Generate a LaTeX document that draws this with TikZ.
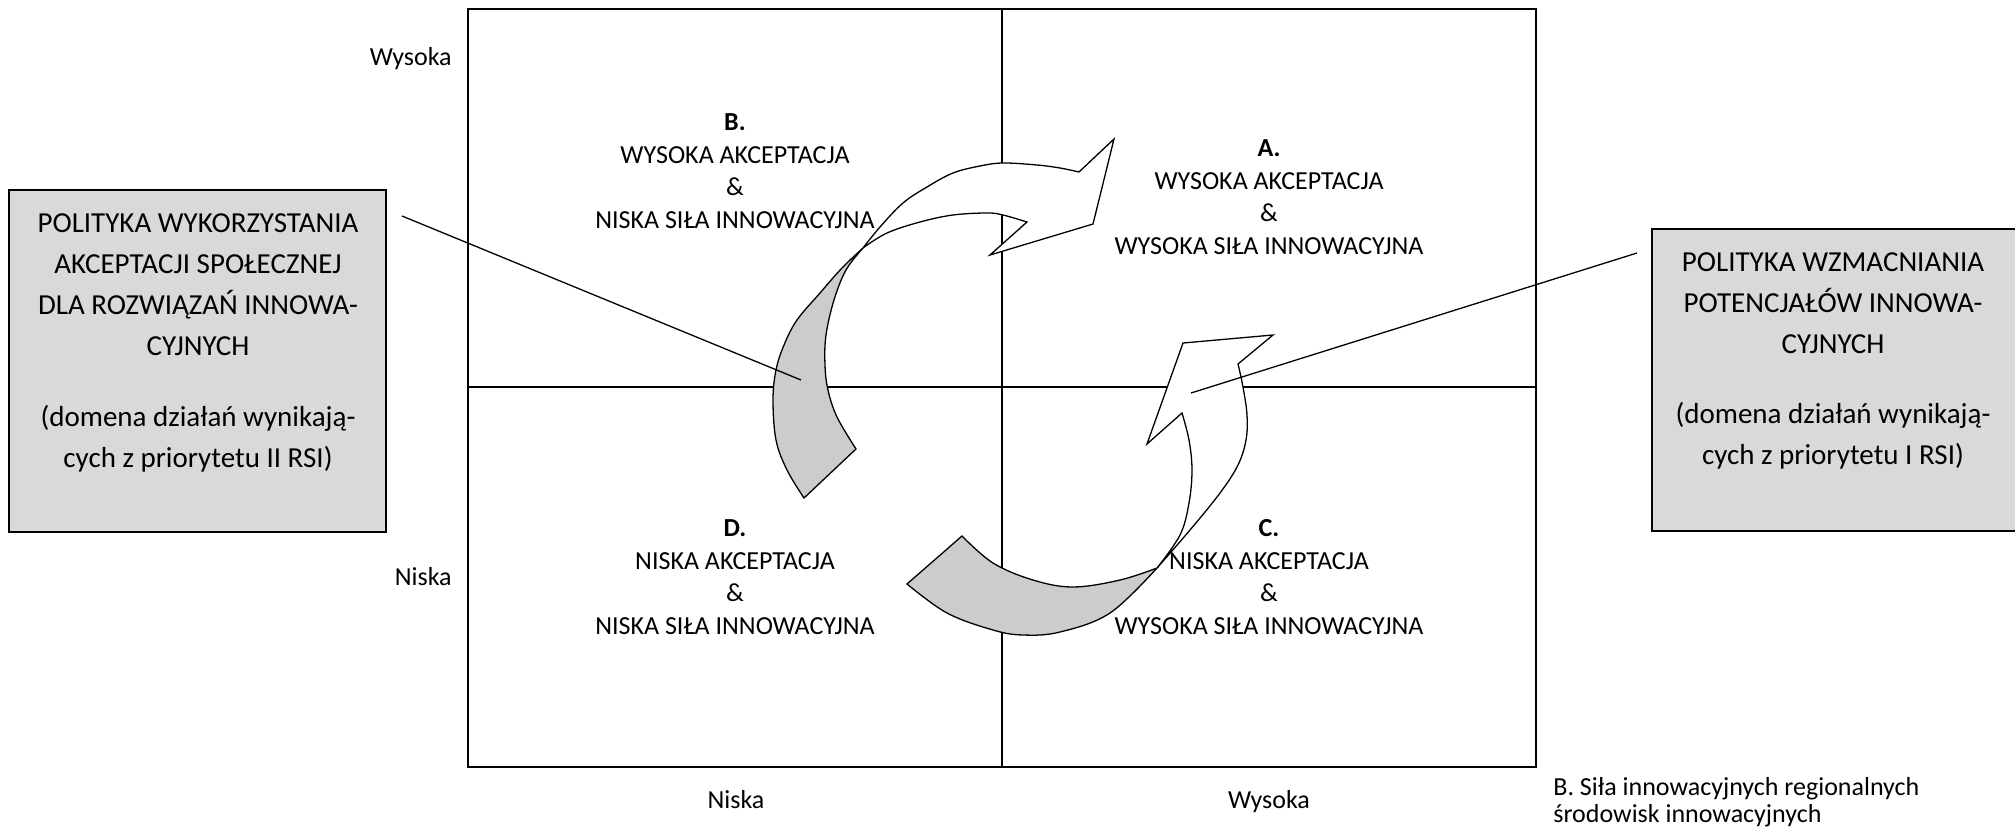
\documentclass[tikz,border=0pt]{standalone}
\usepackage{fontspec}
\setmainfont{Carlito}
\definecolor{boxfill}{RGB}{217,217,217}
\definecolor{ribbonfill}{RGB}{204,204,204}
\begin{document}
\begin{tikzpicture}[x=0.5pt,y=-0.5pt,
  gridline/.style={line width=1pt},
  policybox/.style={draw,line width=0.75pt,fill=boxfill},
  axislabel/.style={inner sep=0pt,anchor=base,font=\fontsize{13}{16}\selectfont},
  quadtext/.style={inner sep=0pt,anchor=base,align=center,font=\fontsize{13}{16.25}\selectfont},
  boxtext/.style={inner sep=0pt,anchor=base,align=center,font=\fontsize{14.5}{20.4}\selectfont},
  ribbon/.style={draw,line width=0.65pt,line join=miter},
  leader/.style={line width=0.65pt}]
\useasboundingbox (0,0) rectangle (2015,830);
\clip (0,0) rectangle (2015,830);

% quadrant grid
\draw[gridline] (468,9) rectangle (1536,767);
\draw[gridline] (1002,9) -- (1002,767);
\draw[gridline] (468,387) -- (1536,387);

% policy boxes
\draw[policybox] (9,190) rectangle (386,532);
\draw[policybox] (1652,229) rectangle (2030,531);

% multi-line nodes are placed by the baseline of their last line
\node[boxtext] (ltitle) at (198,355) {POLITYKA WYKORZYSTANIA\\AKCEPTACJI SPOŁECZNEJ\\DLA ROZWIĄZAŃ INNOWA-\\CYJNYCH};
\node[boxtext] (ldomain) at (198,467) {(domena działań wynikają-\\cych z priorytetu II RSI)};
\node[boxtext] (rtitle) at (1833,353) {POLITYKA WZMACNIANIA\\POTENCJAŁÓW INNOWA-\\CYJNYCH};
\node[boxtext] (rdomain) at (1833,464) {(domena działań wynikają-\\cych z priorytetu I RSI)};

% upper-left curved arrow: grey tail and white head
\filldraw[ribbon,fill=ribbonfill] (804,498)
  -- plot[smooth,tension=0.6] coordinates {(804,498) (787,470) (776,440) (773,400) (776,370) (784,345) (797,320) (820,293) (842,268) (863,248)}
  -- plot[smooth,tension=0.6] coordinates {(863,248) (846,270) (834,300) (826,335) (825,365) (828,390) (837,417) (856,449)}
  -- cycle;
\filldraw[ribbon,fill=white] (863,248)
  -- plot[smooth,tension=0.6] coordinates {(863,248) (880,227) (903,203) (927,187) (953,173) (980,166) (1003,163) (1037,165) (1060,168) (1079,172)}
  -- (1114,139) -- (1093,224) -- (990,255) -- (1027,222)
  -- plot[smooth,tension=0.6] coordinates {(1027,222) (1003,215) (987,213) (953,215) (920,222) (887,233) (863,248)}
  -- cycle;

% lower-right curved arrow: grey tail and white head
\filldraw[ribbon,fill=ribbonfill] (962,536) -- (907,584)
  -- plot[smooth,tension=0.6] coordinates {(907,584) (947,613) (993,630) (1023,635) (1060,632) (1110,613) (1157,568)}
  -- plot[smooth,tension=0.6] coordinates {(1157,568) (1120,580) (1073,587) (1033,580) (993,563) (962,536)}
  -- cycle;
\filldraw[ribbon,fill=white] (1157,568)
  -- plot[smooth,tension=0.6] coordinates {(1157,568) (1190,530) (1220,493) (1238,465) (1246,440) (1247,415) (1243,387) (1238,364)}
  -- (1273,335) -- (1183,343) -- (1147,444) -- (1182,413)
  -- plot[smooth,tension=0.6] coordinates {(1182,413) (1189,440) (1192,470) (1189,503) (1180,535) (1157,568)}
  -- cycle;

% leader lines from the policy boxes
\coordinate (lstart) at (402,216);
\coordinate (lend) at (801,380);
\coordinate (rstart) at (1637,253);
\coordinate (rend) at (1191,393);
\draw[leader] (lstart) -- (lend);
\draw[leader] (rstart) -- (rend);

% quadrant captions
\node[quadtext] (qB) at (735,228) {\textbf{B.}\\WYSOKA AKCEPTACJA\\\&\\NISKA SIŁA INNOWACYJNA};
\node[quadtext] (qA) at (1269,254) {\textbf{A.}\\WYSOKA AKCEPTACJA\\\&\\WYSOKA SIŁA INNOWACYJNA};
\node[quadtext] (qD) at (735,634) {\textbf{D.}\\NISKA AKCEPTACJA\\\&\\NISKA SIŁA INNOWACYJNA};
\node[quadtext] (qC) at (1269,634) {\textbf{C.}\\NISKA AKCEPTACJA\\\&\\WYSOKA SIŁA INNOWACYJNA};

% axis labels
\node[axislabel,anchor=base east] (yhigh) at (452,65) {Wysoka};
\node[axislabel,anchor=base east] (ylow) at (452,585) {Niska};
\node[axislabel] (xlow) at (736,808) {Niska};
\node[axislabel] (xhigh) at (1269,808) {Wysoka};
\node[axislabel,anchor=base west,align=left,font=\fontsize{13}{13.5}\selectfont] (xtitle) at (1553,822) {B. Siła innowacyjnych regionalnych\\środowisk innowacyjnych};
\end{tikzpicture}
\end{document}
